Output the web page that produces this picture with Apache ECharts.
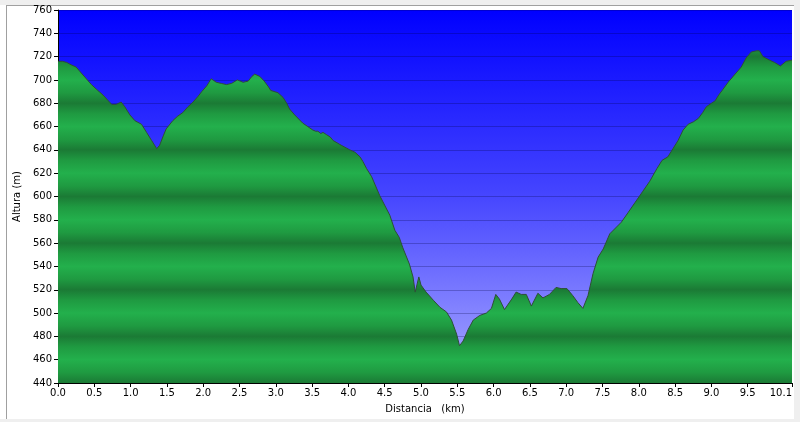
<!DOCTYPE html>
<html>
<head>
<meta charset="utf-8">
<script src="https://cdn.jsdelivr.net/npm/echarts@6/dist/echarts.min.js"></script>
<style>
html,body{margin:0;padding:0;background:#fff;}
#wrap{position:relative;width:800px;height:422px;overflow:hidden;background:#fff;}
#topband{position:absolute;left:0;top:0;width:800px;height:5px;background:#efefef;}
#rightband{position:absolute;left:794px;top:0;width:6px;height:422px;background:#efefef;}
#bottomband{position:absolute;left:0;top:419px;width:800px;height:3px;background:#efefef;}
#hline{position:absolute;left:6px;top:5px;width:788px;height:1px;background:#a0a0a0;}
#vline{position:absolute;left:6px;top:5px;width:1px;height:414px;background:#a0a0a0;}
#chart{position:absolute;left:0;top:0;width:800px;height:422px;}
</style>
</head>
<body>
<div id="wrap">
<div id="topband"></div><div id="rightband"></div><div id="bottomband"></div>
<div id="hline"></div><div id="vline"></div>
<div id="chart"></div>
</div>
<script>
// Distance (km)
const distKm = [0.00,0.06,0.12,0.18,0.25,0.32,0.39,0.46,0.53,0.62,0.68,0.74,0.80,0.87,0.92,0.99,1.06,1.15,1.22,1.29,1.36,1.40,1.45,1.49,1.58,1.65,1.72,1.79,1.86,1.93,1.98,2.05,2.11,2.18,2.25,2.32,2.39,2.47,2.55,2.62,2.67,2.71,2.78,2.84,2.90,2.93,3.03,3.10,3.15,3.19,3.26,3.37,3.44,3.51,3.55,3.58,3.62,3.65,3.70,3.75,3.79,3.90,4.02,4.09,4.16,4.20,4.25,4.32,4.43,4.57,4.64,4.70,4.75,4.84,4.89,4.92,4.97,5.00,5.07,5.17,5.26,5.35,5.42,5.49,5.53,5.58,5.65,5.72,5.81,5.90,5.97,6.03,6.08,6.15,6.25,6.31,6.38,6.45,6.52,6.61,6.68,6.77,6.86,6.93,7.01,7.09,7.16,7.23,7.30,7.37,7.44,7.51,7.60,7.68,7.76,7.85,7.95,8.05,8.15,8.25,8.32,8.40,8.47,8.54,8.61,8.68,8.75,8.82,8.88,8.93,9.00,9.05,9.10,9.16,9.23,9.34,9.41,9.48,9.55,9.62,9.66,9.71,9.80,9.87,9.95,10.03,10.11];
// Altitude (m)
const altM = [716,716,715,713,711,706,701,696,692,687,683,679,679,681,677,670,665,662,655,648,641,644,652,658,665,669,672,677,681,686,690,695,701,698,697,696,697,700,698,699,703,705,703,699,694,691,689,685,680,675,670,663,660,657,656,656,654,655,653,651,648,644,640,638,634,630,624,617,601,584,571,565,556,542,531,518,531,524,518,511,505,501,494,482,472,476,486,494,498,500,504,516,512,503,512,518,516,516,506,517,513,516,522,521,521,515,509,504,515,534,548,555,568,573,578,586,595,604,613,624,631,634,641,648,657,662,664,667,672,677,680,682,687,692,698,706,711,719,724,725,725,720,717,715,712,716,717];
// Tick values
const xTickValues = [0,0.5,1,1.5,2,2.5,3,3.5,4,4.5,5,5.5,6,6.5,7,7.5,8,8.5,9,9.5,10.11];
const yMin = 440, yMax = 760, yStep = 20;

const gridTop = 10, gridBottom = 39, gridLeft = 58, gridRight = 8;
const H = 422;
const plotTop = gridTop, plotBottom = H - gridBottom;

// Banded green fill: dark at 440+40k, light at 460+40k
const dark = '#1b7a35', mid = '#1f9a41', light = '#23b04c';
const stops = [];
const nPeriods = (yMax - yMin) / 40;
for (let k = 0; k < nPeriods; k++) {
  const o0 = k / nPeriods, half = 0.5 / nPeriods;
  stops.push({offset: o0, color: dark});
  stops.push({offset: o0 + half * 0.45, color: mid});
  stops.push({offset: o0 + half, color: light});
  stops.push({offset: o0 + half * 1.55, color: mid});
}
stops.push({offset: 1, color: dark});
const greenFill = new echarts.graphic.LinearGradient(0, plotTop, 0, plotBottom, stops, true);

const blueBg = new echarts.graphic.LinearGradient(0, 0, 0, 1, [
  {offset: 0, color: '#0000ff'},
  {offset: 0.5, color: '#4646ff'},
  {offset: 1, color: '#aaaaff'}
]);

const chart = echarts.init(document.getElementById('chart'), null, {renderer: 'canvas'});
const font = 'DejaVu Sans';
chart.setOption({
  animation: false,
  backgroundColor: 'transparent',
  grid: {left: gridLeft, right: gridRight, top: gridTop, bottom: gridBottom, show: true, backgroundColor: blueBg, borderWidth: 0},
  xAxis: {
    type: 'value', min: 0, max: 10.11,
    name: 'Distancia   (km)', nameLocation: 'middle', nameGap: 21,
    nameTextStyle: {fontFamily: font, fontSize: 10, color: '#000'},
    axisLine: {show: true, lineStyle: {color: '#000', width: 1}},
    axisTick: {show: true, length: 4, customValues: xTickValues, lineStyle: {color: '#000'}},
    axisLabel: {customValues: xTickValues, fontFamily: font, fontSize: 10, color: '#000', margin: 5,
      alignMaxLabel: 'right', formatter: v => v.toFixed(1)},
    splitLine: {show: false}
  },
  yAxis: {
    type: 'value', min: yMin, max: yMax, interval: yStep,
    name: 'Altura (m)', nameLocation: 'middle', nameGap: 36,
    nameTextStyle: {fontFamily: font, fontSize: 10, color: '#000'},
    axisLine: {show: true, lineStyle: {color: '#000', width: 1}},
    axisTick: {show: true, length: 4, lineStyle: {color: '#000'}},
    axisLabel: {fontFamily: font, fontSize: 10, color: '#000', margin: 6},
    splitLine: {show: true, lineStyle: {color: 'rgba(0,0,60,0.25)', width: 1}}
  },
  series: [{
    type: 'line',
    data: distKm.map((d, i) => [d, altM[i]]),
    symbol: 'none',
    lineStyle: {color: '#2e4f36', width: 1},
    areaStyle: {color: greenFill, opacity: 1, origin: 'start'}
  }]
});
</script>
</body>
</html>
